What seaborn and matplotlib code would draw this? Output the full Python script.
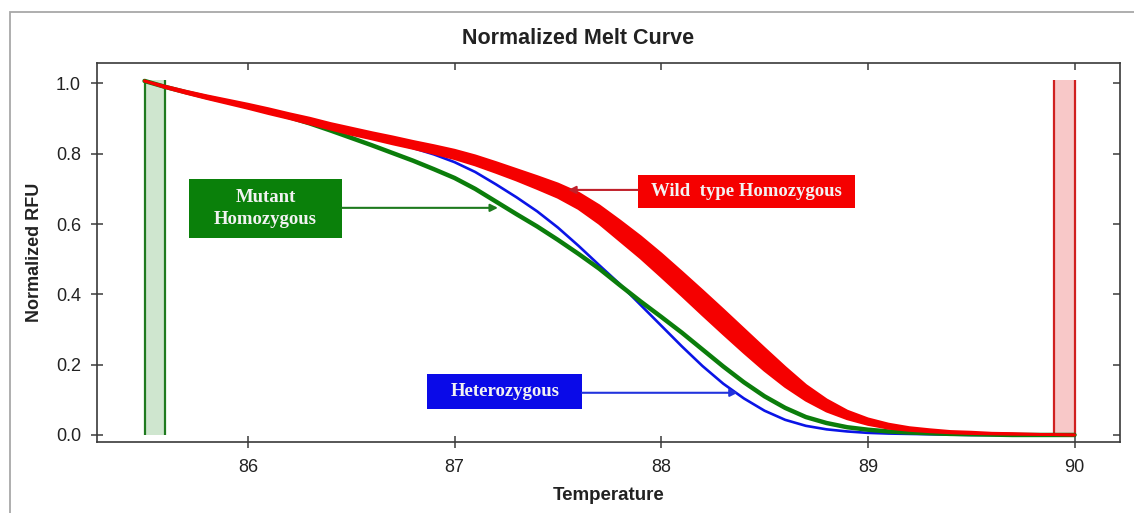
import numpy as np
import pandas as pd
import matplotlib
matplotlib.use("Agg")
import matplotlib.pyplot as plt
from matplotlib.patches import Rectangle
import seaborn as sns

# ---------------- data ----------------
temps = [85.5, 85.6, 85.7, 85.8, 85.9, 86.0, 86.1, 86.2, 86.3, 86.4,
         86.5, 86.6, 86.7, 86.8, 86.9, 87.0, 87.1, 87.2, 87.3, 87.4,
         87.5, 87.6, 87.7, 87.8, 87.9, 88.0, 88.1, 88.2, 88.3, 88.4,
         88.5, 88.6, 88.7, 88.8, 88.9, 89.0, 89.1, 89.2, 89.3, 89.4,
         89.5, 89.6, 89.7, 89.8, 89.9, 90.0]

wild_mid = [1.007, 0.990, 0.975, 0.961, 0.948, 0.935, 0.921, 0.907, 0.893, 0.878,
            0.864, 0.851, 0.838, 0.825, 0.812, 0.798, 0.781, 0.761, 0.740, 0.718,
            0.695, 0.666, 0.627, 0.581, 0.534, 0.483, 0.430, 0.376, 0.322, 0.268,
            0.215, 0.165, 0.120, 0.084, 0.057, 0.038, 0.025, 0.017, 0.012, 0.008,
            0.006, 0.004, 0.003, 0.002, 0.001, 0.000]

wild_spread = [0.000, 0.002, 0.003, 0.004, 0.005, 0.006, 0.007, 0.007, 0.008, 0.008,
               0.009, 0.009, 0.010, 0.010, 0.011, 0.012, 0.013, 0.014, 0.015, 0.017,
               0.019, 0.022, 0.025, 0.028, 0.030, 0.032, 0.033, 0.034, 0.034, 0.033,
               0.031, 0.027, 0.021, 0.016, 0.011, 0.008, 0.006, 0.004, 0.003, 0.002,
               0.002, 0.001, 0.001, 0.000, 0.000, 0.000]

mutant = [1.007, 0.990, 0.975, 0.961, 0.948, 0.934, 0.920, 0.904, 0.886, 0.866,
          0.845, 0.824, 0.802, 0.780, 0.756, 0.731, 0.700, 0.664, 0.628, 0.593,
          0.555, 0.515, 0.473, 0.426, 0.380, 0.336, 0.291, 0.243, 0.195, 0.150,
          0.110, 0.077, 0.051, 0.034, 0.022, 0.015, 0.010, 0.007, 0.005, 0.003,
          0.002, 0.001, 0.000, 0.000, 0.000, 0.000]

hetero = [1.007, 0.990, 0.975, 0.961, 0.948, 0.934, 0.921, 0.905, 0.890, 0.875,
          0.861, 0.846, 0.832, 0.816, 0.798, 0.776, 0.748, 0.713, 0.676, 0.636,
          0.590, 0.538, 0.483, 0.429, 0.370, 0.311, 0.252, 0.196, 0.146, 0.104,
          0.069, 0.043, 0.026, 0.016, 0.010, 0.006, 0.004, 0.003, 0.002, 0.001,
          0.000, 0.000, 0.000, 0.000, 0.000, 0.000]

begin_region = [85.5, 85.6]
end_region = [89.9, 90.0]
region_top = 1.01

x_ticks = [86, 87, 88, 89, 90]
y_ticks = [0.0, 0.2, 0.4, 0.6, 0.8, 1.0]

# ---------------- style ----------------
sns.set_style("white")
plt.rcParams['font.family'] = ['Liberation Sans', 'DejaVu Sans']

W, H = 1134, 513
fig = plt.figure(figsize=(W / 100, H / 100), dpi=100)
ax = fig.add_axes([97 / W, 1 - 442 / H, (1120 - 97) / W, (442 - 63) / H])

# outer gray frame of the picture
fig.patches.append(Rectangle((10 / W, -0.2), 1.2, 1 - 12 / H + 0.2, transform=fig.transFigure,
                             fill=False, edgecolor="#a8a8a8", linewidth=1.3, zorder=0))

# begin / end regions
ax.fill_between(begin_region, 0, region_top, color="#cfe6cf", linewidth=0, zorder=1)
ax.vlines(begin_region, 0, region_top, color="#1f7a1f", linewidth=1.6, zorder=2)
ax.fill_between(end_region, 0, region_top, color="#f8c8c8", linewidth=0, zorder=1)
ax.vlines(end_region, 0, region_top, color="#d02020", linewidth=1.6, zorder=2)

df = pd.DataFrame({"T": temps, "wild": wild_mid, "spread": wild_spread,
                   "mutant": mutant, "hetero": hetero})
df["wild_hi"] = df["wild"] + df["spread"]
df["wild_lo"] = df["wild"] - df["spread"]

sns.lineplot(data=df, x="T", y="hetero", color="#0a14e6", linewidth=1.9, ax=ax, zorder=3)
sns.lineplot(data=df, x="T", y="mutant", color="#0b7d0b", linewidth=3.2, ax=ax, zorder=4)
ax.fill_between(df["T"], df["wild_lo"], df["wild_hi"], color="#f50000", linewidth=0, zorder=5)
sns.lineplot(data=df, x="T", y="wild_hi", color="#f50000", linewidth=2.0, ax=ax, zorder=5)
sns.lineplot(data=df, x="T", y="wild_lo", color="#f50000", linewidth=2.0, ax=ax, zorder=5)

ax.set_xlim(85.27, 90.22)
ax.set_ylim(-0.02, 1.058)
ax.set_xticks(x_ticks)
ax.set_xticklabels([str(t) for t in x_ticks])
ax.set_yticks(y_ticks)
ax.set_yticklabels([f"{v:.1f}" for v in y_ticks])

for s in ax.spines.values():
    s.set_color("#3a3a3a")
    s.set_linewidth(1.2)

ax.tick_params(axis="both", which="both", direction="inout", length=9, width=1.1,
               color="#3a3a3a", labelsize=13, labelcolor="#222222",
               bottom=True, left=True, top=True, right=True,
               labeltop=False, labelright=False)
ax.tick_params(axis="x", pad=8)
ax.tick_params(axis="y", pad=7)
for t in ax.xaxis.get_major_ticks():
    t.tick2line.set_markersize(5)
    t.tick2line.set_marker(3)  # inward tick on top
for t in ax.yaxis.get_major_ticks():
    t.tick2line.set_markersize(5)
    t.tick2line.set_marker(0)  # inward tick on right

ax.set_xlabel("Temperature", fontsize=13.5, fontweight="bold", labelpad=8, color="#222222")
ax.set_ylabel("Normalized RFU", fontsize=13, fontweight="bold", labelpad=9, color="#222222")
fig.text(578 / W, 1 - 38 / H, "Normalized Melt Curve", ha="center", va="center",
         fontsize=15.5, fontweight="bold", color="#222222")

# labelled boxes with arrows
serif = ['Liberation Serif', 'DejaVu Serif']
boxes = [
    ("Mutant\nHomozygous", (85.714, 0.560, 0.742, 0.168), "#0a800a",
     (86.456, 0.646), (87.21, 0.646), "#1e7a1e"),
    ("Wild  type Homozygous", (87.888, 0.646, 1.049, 0.094), "#f50000",
     (87.888, 0.697), (87.55, 0.697), "#c0202a"),
    ("Heterozygous", (86.869, 0.074, 0.748, 0.100), "#0a0ae8",
     (87.617, 0.120), (88.37, 0.120), "#2233dd"),
]
for text, (x0, y0, w, h), fc, start, tip, ac in boxes:
    ax.add_patch(Rectangle((x0, y0), w, h, facecolor=fc, edgecolor="none", zorder=6))
    ax.text(x0 + w / 2, y0 + h / 2, text, ha="center", va="center", family=serif,
            fontsize=13.5, fontweight="bold", color="#f2f2f2", linespacing=1.45, zorder=7)
    ax.annotate("", xy=tip, xytext=start,
                arrowprops=dict(arrowstyle="-|>", color=ac, lw=1.5, mutation_scale=11,
                                shrinkA=0, shrinkB=0), zorder=6)

fig.savefig("out.png", dpi=100)
